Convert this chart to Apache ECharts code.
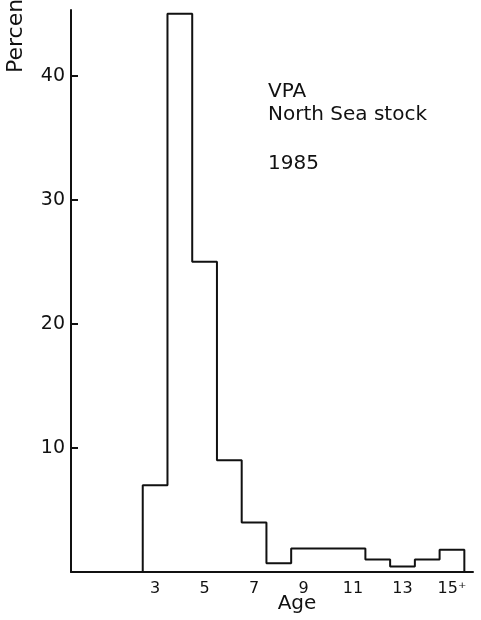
<!DOCTYPE html>
<html>
<head>
<meta charset="utf-8">
<script src="https://cdn.jsdelivr.net/npm/echarts@6/dist/echarts.min.js"></script>
<style>
  html, body { margin: 0; padding: 0; background: #fff; }
  #chart { width: 481px; height: 620px; }
</style>
</head>
<body>
<div id="chart"></div>
<script>
// age classes (15 = 15+) and percent of stock in each
const ages = [3, 4, 5, 6, 7, 8, 9, 10, 11, 12, 13, 14, 15]
const percent = [7, 45, 25, 9, 4, 0.7, 1.9, 1.9, 1.9, 1.0, 0.45, 1.0, 1.8]
const ageTicks = [3, 5, 7, 9, 11, 13, 15]
const yTicks = [10, 20, 30, 40]

// outline of the histogram: step line through the left edge of every class
const outline = [[ages[0] - 0.5, 0]]
ages.forEach((a, i) => outline.push([a - 0.5, percent[i]]))
outline.push([ages[ages.length - 1] + 0.5, 0])

const font = 'DejaVu Sans'
const ink = '#111'
const chart = echarts.init(document.getElementById('chart'))

chart.setOption({
  backgroundColor: '#fff',
  animation: false,
  grid: { left: 71, right: 8, top: 10, bottom: 48 },
  xAxis: {
    type: 'value',
    min: -0.4,
    max: 15.85,
    splitLine: { show: false },
    axisLine: { lineStyle: { color: ink, width: 2 } },
    axisTick: { show: false },
    axisLabel: {
      customValues: ageTicks,
      margin: 9,
      color: ink,
      fontFamily: font,
      fontSize: 16,
      formatter: v => v === 15 ? '15⁺' : String(v)
    }
  },
  yAxis: {
    type: 'value',
    min: 0,
    max: 45.3,
    splitLine: { show: false },
    axisLine: { show: true, onZero: false, lineStyle: { color: ink, width: 2 } },
    axisTick: {
      show: true,
      inside: true,
      length: 7,
      customValues: yTicks,
      lineStyle: { color: ink, width: 2 }
    },
    axisLabel: {
      customValues: yTicks,
      margin: 6,
      color: ink,
      fontFamily: font,
      fontSize: 19
    }
  },
  series: [{
    type: 'line',
    step: 'end',
    data: outline,
    symbol: 'none',
    lineStyle: { color: ink, width: 2 },
    silent: true
  }],
  graphic: [
    {
      type: 'text',
      x: 16, y: 73,
      rotation: Math.PI / 2,
      style: { text: 'Percent', font: '22px "DejaVu Sans"', fill: ink,
        textAlign: 'left', textVerticalAlign: 'middle' }
    },
    {
      type: 'text',
      x: 297, y: 604,
      style: { text: 'Age', font: '20px "DejaVu Sans"', fill: ink,
        textAlign: 'center', textVerticalAlign: 'middle' }
    },
    {
      type: 'text',
      x: 268, y: 92,
      style: { text: 'VPA', font: '20px "DejaVu Sans"', fill: ink,
        textVerticalAlign: 'middle' }
    },
    {
      type: 'text',
      x: 268, y: 115,
      style: { text: 'North Sea stock', font: '20px "DejaVu Sans"', fill: ink,
        textVerticalAlign: 'middle' }
    },
    {
      type: 'text',
      x: 268, y: 164,
      style: { text: '1985', font: '20px "DejaVu Sans"', fill: ink,
        textVerticalAlign: 'middle' }
    }
  ]
})
</script>
</body>
</html>
